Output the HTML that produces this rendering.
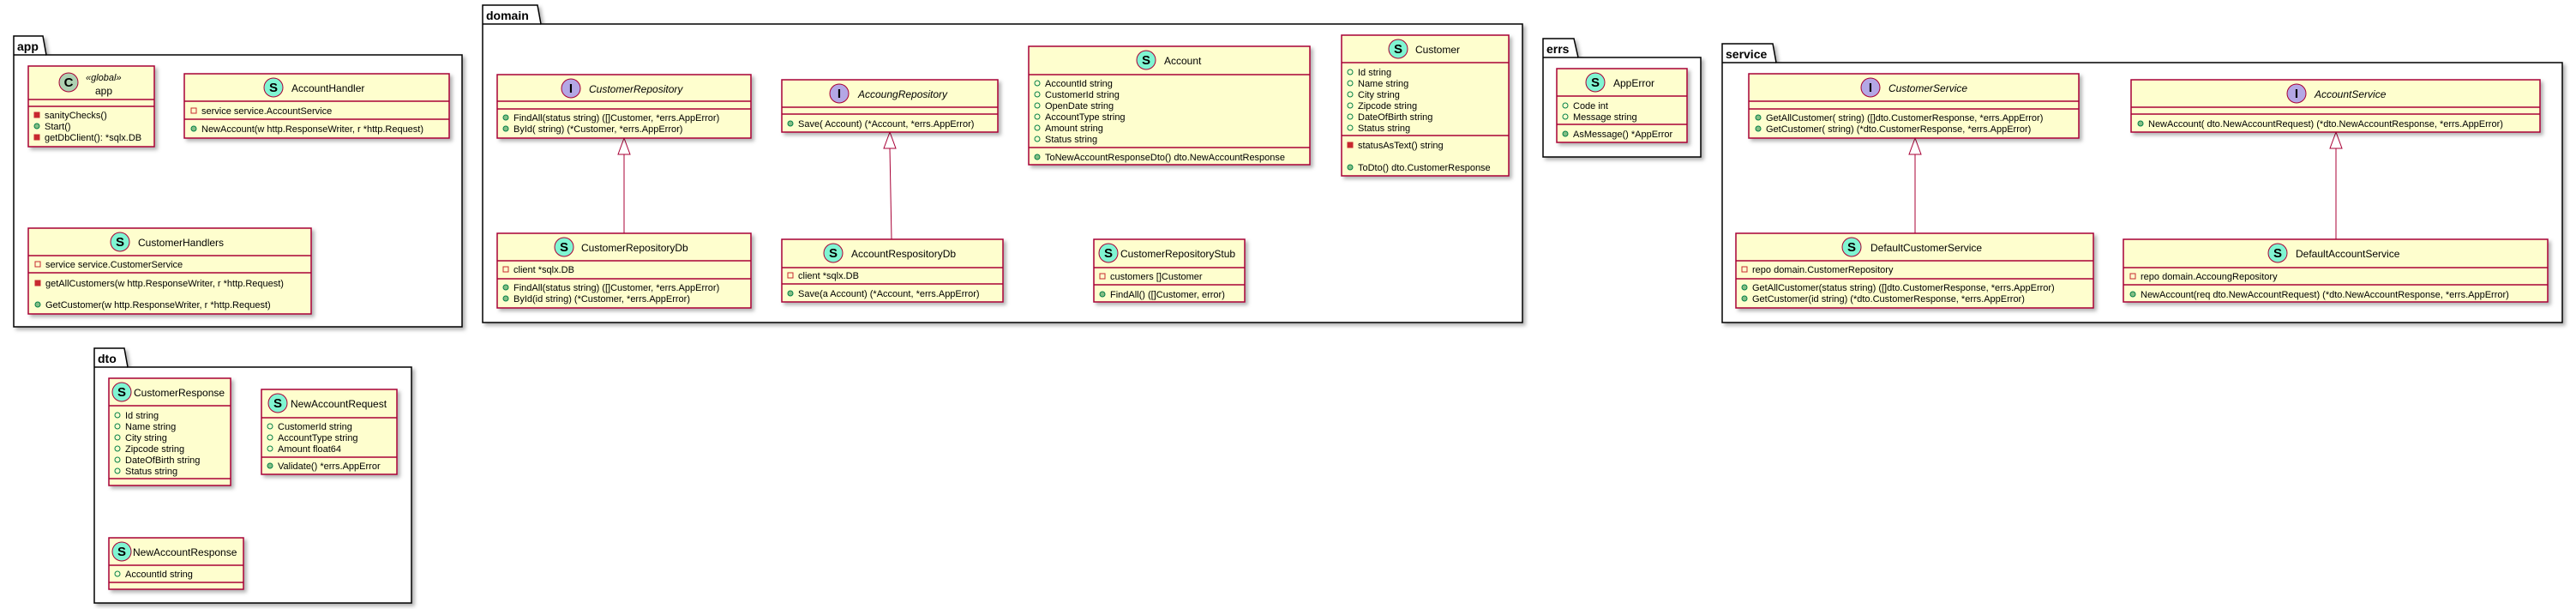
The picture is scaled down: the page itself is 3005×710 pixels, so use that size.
<!DOCTYPE html>
<html><head><meta charset="utf-8"><style>
html,body{margin:0;padding:0;background:#fff;}
svg{display:block;}
text{font-family:"Liberation Sans",sans-serif;font-size:11px;fill:#000;}
.t{font-size:12px;}
.i{font-style:italic;}
.pk{font-size:14px;font-weight:bold;}
.c{fill:#FEFECE;stroke:#A80036;stroke-width:1.5;filter:url(#sh);}
.l{stroke:#A80036;stroke-width:1.5;}
.p{fill:#fff;stroke:#000;stroke-width:1.5;filter:url(#sh);}
.cs{fill:#7FF5D2;stroke:#A80036;stroke-width:1;}
.ci{fill:#B4A7E5;stroke:#A80036;stroke-width:1;}
.cc{fill:#ADD1B2;stroke:#A80036;stroke-width:1;}
.ct{font-size:15px;font-weight:bold;text-anchor:middle;}
.ar{fill:none;stroke:#A80036;stroke-width:1;}
.tri{fill:#fff;stroke:#A80036;stroke-width:1;}
</style></head><body>
<svg width="3005" height="710" xmlns="http://www.w3.org/2000/svg">
<defs>
<filter id="sh" x="-5%" y="-5%" width="115%" height="130%"><feDropShadow dx="3" dy="3" stdDeviation="2" flood-color="#000" flood-opacity="0.3"/></filter>
<g id="pm"><circle cx="0" cy="0" r="3" fill="#84BE84" stroke="#038048" stroke-width="1"/></g>
<g id="pf"><circle cx="0" cy="0" r="3" fill="none" stroke="#038048" stroke-width="1"/></g>
<g id="vf"><rect x="-3" y="-3" width="6" height="6" fill="none" stroke="#C82930" stroke-width="1"/></g>
<g id="vm"><rect x="-3" y="-3" width="6" height="6" fill="#C82930" stroke="#C82930" stroke-width="1"/></g>
</defs>

<!-- packages -->
<path class="p" d="M16,64 L16,42 L50,42 L54,64 L539,64 L539,381 L16,381 Z"/><line x1="16" y1="64" x2="54" y2="64" stroke="#000" stroke-width="1.5"/>
<text class="pk" x="20" y="59">app</text>
<path class="p" d="M110,428 L110,406 L145,406 L149,428 L480,428 L480,703 L110,703 Z"/><line x1="110" y1="428" x2="149" y2="428" stroke="#000" stroke-width="1.5"/>
<text class="pk" x="114" y="423">dto</text>
<path class="p" d="M563,28 L563,6 L627,6 L631,28 L1776,28 L1776,376 L563,376 Z"/><line x1="563" y1="28" x2="631" y2="28" stroke="#000" stroke-width="1.5"/>
<text class="pk" x="567" y="23">domain</text>
<path class="p" d="M1800,67 L1800,45 L1836,45 L1841,67 L1984,67 L1984,183 L1800,183 Z"/><line x1="1800" y1="67" x2="1841" y2="67" stroke="#000" stroke-width="1.5"/>
<text class="pk" x="1804" y="62">errs</text>
<path class="p" d="M2009,73 L2009,51 L2068,51 L2072,73 L2989,73 L2989,376 L2009,376 Z"/><line x1="2009" y1="73" x2="2072" y2="73" stroke="#000" stroke-width="1.5"/>
<text class="pk" x="2013" y="68">service</text>

<!-- app -->
<rect class="c" x="33" y="77" width="147" height="94"/><line class="l" x1="33" y1="116" x2="180" y2="116"/><line class="l" x1="33" y1="124" x2="180" y2="124"/>
<circle class="cc" cx="80" cy="96" r="11"/><text class="ct" x="80" y="101">C</text>
<text class="i" x="100" y="94">«global»</text><text class="t" x="111" y="110">app</text>
<use href="#vm" x="43" y="134"/><text x="52" y="138">sanityChecks()</text>
<use href="#pm" x="43" y="147"/><text x="52" y="151">Start()</text>
<use href="#vm" x="43" y="160"/><text x="52" y="164">getDbClient(): *sqlx.DB</text>

<rect class="c" x="215" y="86" width="309" height="75"/><line class="l" x1="215" y1="118" x2="524" y2="118"/><line class="l" x1="215" y1="139" x2="524" y2="139"/>
<circle class="cs" cx="319" cy="102" r="11"/><text class="ct" x="319" y="107">S</text><text class="t" x="340" y="107">AccountHandler</text>
<use href="#vf" x="226" y="129"/><text x="235" y="133">service service.AccountService</text>
<use href="#pm" x="226" y="150"/><text x="235" y="154">NewAccount(w http.ResponseWriter, r *http.Request)</text>

<rect class="c" x="33" y="266" width="330" height="100"/><line class="l" x1="33" y1="298" x2="363" y2="298"/><line class="l" x1="33" y1="318" x2="363" y2="318"/>
<circle class="cs" cx="140" cy="282" r="11"/><text class="ct" x="140" y="287">S</text><text class="t" x="161" y="287">CustomerHandlers</text>
<use href="#vf" x="44" y="308"/><text x="53" y="312">service service.CustomerService</text>
<use href="#vm" x="44" y="330"/><text x="53" y="334">getAllCustomers(w http.ResponseWriter, r *http.Request)</text>
<use href="#pm" x="44" y="355"/><text x="53" y="359">GetCustomer(w http.ResponseWriter, r *http.Request)</text>

<!-- dto -->
<rect class="c" x="127" y="441" width="142" height="125"/><line class="l" x1="127" y1="473" x2="269" y2="473"/><line class="l" x1="127" y1="558" x2="269" y2="558"/>
<circle class="cs" cx="142" cy="457" r="11"/><text class="ct" x="142" y="462">S</text><text class="t" x="156" y="462">CustomerResponse</text>
<use href="#pf" x="137" y="484"/><text x="146" y="488">Id string</text>
<use href="#pf" x="137" y="497"/><text x="146" y="501">Name string</text>
<use href="#pf" x="137" y="510"/><text x="146" y="514">City string</text>
<use href="#pf" x="137" y="523"/><text x="146" y="527">Zipcode string</text>
<use href="#pf" x="137" y="536"/><text x="146" y="540">DateOfBirth string</text>
<use href="#pf" x="137" y="549"/><text x="146" y="553">Status string</text>

<rect class="c" x="305" y="454" width="158" height="99"/><line class="l" x1="305" y1="487" x2="463" y2="487"/><line class="l" x1="305" y1="533" x2="463" y2="533"/>
<circle class="cs" cx="324" cy="470" r="11"/><text class="ct" x="324" y="475">S</text><text class="t" x="339" y="475">NewAccountRequest</text>
<use href="#pf" x="315" y="497"/><text x="324" y="501">CustomerId string</text>
<use href="#pf" x="315" y="510"/><text x="324" y="514">AccountType string</text>
<use href="#pf" x="315" y="523"/><text x="324" y="527">Amount float64</text>
<use href="#pm" x="315" y="543"/><text x="324" y="547">Validate() *errs.AppError</text>

<rect class="c" x="127" y="627" width="157" height="60"/><line class="l" x1="127" y1="659" x2="284" y2="659"/><line class="l" x1="127" y1="679" x2="284" y2="679"/>
<circle class="cs" cx="142" cy="643" r="11"/><text class="ct" x="142" y="648">S</text><text class="t" x="155" y="648">NewAccountResponse</text>
<use href="#pf" x="137" y="669"/><text x="146" y="673">AccountId string</text>

<!-- domain -->
<line class="ar" x1="728" y1="180" x2="728" y2="272"/><polygon class="tri" points="728,161 721,180 735,180"/>
<line class="ar" x1="1038" y1="173" x2="1040" y2="279"/><polygon class="tri" points="1038,154 1031,173 1045,173"/>

<rect class="c" x="580" y="87" width="296" height="74"/><line class="l" x1="580" y1="118" x2="876" y2="118"/><line class="l" x1="580" y1="127" x2="876" y2="127"/>
<circle class="ci" cx="666" cy="103" r="11"/><text class="ct" x="666" y="108">I</text><text class="t i" x="687" y="108">CustomerRepository</text>
<use href="#pm" x="590" y="137"/><text x="599" y="141">FindAll(status string) ([]Customer, *errs.AppError)</text>
<use href="#pm" x="590" y="150"/><text x="599" y="154">ById( string) (*Customer, *errs.AppError)</text>

<rect class="c" x="580" y="272" width="296" height="87"/><line class="l" x1="580" y1="304" x2="876" y2="304"/><line class="l" x1="580" y1="325" x2="876" y2="325"/>
<circle class="cs" cx="658" cy="288" r="11"/><text class="ct" x="658" y="293">S</text><text class="t" x="678" y="293">CustomerRepositoryDb</text>
<use href="#vf" x="590" y="314"/><text x="599" y="318">client *sqlx.DB</text>
<use href="#pm" x="590" y="335"/><text x="599" y="339">FindAll(status string) ([]Customer, *errs.AppError)</text>
<use href="#pm" x="590" y="348"/><text x="599" y="352">ById(id string) (*Customer, *errs.AppError)</text>

<rect class="c" x="912" y="93" width="252" height="61"/><line class="l" x1="912" y1="125" x2="1164" y2="125"/><line class="l" x1="912" y1="133" x2="1164" y2="133"/>
<circle class="ci" cx="979" cy="109" r="11"/><text class="ct" x="979" y="114">I</text><text class="t i" x="1001" y="114">AccoungRepository</text>
<use href="#pm" x="922" y="144"/><text x="931" y="148">Save( Account) (*Account, *errs.AppError)</text>

<rect class="c" x="912" y="279" width="258" height="73"/><line class="l" x1="912" y1="312" x2="1170" y2="312"/><line class="l" x1="912" y1="331" x2="1170" y2="331"/>
<circle class="cs" cx="972" cy="295" r="11"/><text class="ct" x="972" y="300">S</text><text class="t" x="993" y="300">AccountRespositoryDb</text>
<use href="#vf" x="922" y="321"/><text x="931" y="325">client *sqlx.DB</text>
<use href="#pm" x="922" y="342"/><text x="931" y="346">Save(a Account) (*Account, *errs.AppError)</text>

<rect class="c" x="1200" y="54" width="328" height="138"/><line class="l" x1="1200" y1="87" x2="1528" y2="87"/><line class="l" x1="1200" y1="172" x2="1528" y2="172"/>
<circle class="cs" cx="1337" cy="70" r="11"/><text class="ct" x="1337" y="75">S</text><text class="t" x="1358" y="75">Account</text>
<use href="#pf" x="1210" y="97"/><text x="1219" y="101">AccountId string</text>
<use href="#pf" x="1210" y="110"/><text x="1219" y="114">CustomerId string</text>
<use href="#pf" x="1210" y="123"/><text x="1219" y="127">OpenDate string</text>
<use href="#pf" x="1210" y="136"/><text x="1219" y="140">AccountType string</text>
<use href="#pf" x="1210" y="149"/><text x="1219" y="153">Amount string</text>
<use href="#pf" x="1210" y="162"/><text x="1219" y="166">Status string</text>
<use href="#pm" x="1210" y="183"/><text x="1219" y="187">ToNewAccountResponseDto() dto.NewAccountResponse</text>

<rect class="c" x="1565" y="41" width="195" height="164"/><line class="l" x1="1565" y1="73" x2="1760" y2="73"/><line class="l" x1="1565" y1="158" x2="1760" y2="158"/>
<circle class="cs" cx="1631" cy="57" r="11"/><text class="ct" x="1631" y="62">S</text><text class="t" x="1651" y="62">Customer</text>
<use href="#pf" x="1575" y="84"/><text x="1584" y="88">Id string</text>
<use href="#pf" x="1575" y="97"/><text x="1584" y="101">Name string</text>
<use href="#pf" x="1575" y="110"/><text x="1584" y="114">City string</text>
<use href="#pf" x="1575" y="123"/><text x="1584" y="127">Zipcode string</text>
<use href="#pf" x="1575" y="136"/><text x="1584" y="140">DateOfBirth string</text>
<use href="#pf" x="1575" y="149"/><text x="1584" y="153">Status string</text>
<use href="#vm" x="1575" y="169"/><text x="1584" y="173">statusAsText() string</text>
<use href="#pm" x="1575" y="195"/><text x="1584" y="199">ToDto() dto.CustomerResponse</text>

<rect class="c" x="1276" y="279" width="176" height="73"/><line class="l" x1="1276" y1="312" x2="1452" y2="312"/><line class="l" x1="1276" y1="332" x2="1452" y2="332"/>
<circle class="cs" cx="1293" cy="295" r="11"/><text class="ct" x="1293" y="300">S</text><text class="t" x="1307" y="300">CustomerRepositoryStub</text>
<use href="#vf" x="1286" y="322"/><text x="1295" y="326">customers []Customer</text>
<use href="#pm" x="1286" y="343"/><text x="1295" y="347">FindAll() ([]Customer, error)</text>

<!-- errs -->
<rect class="c" x="1816" y="80" width="152" height="86"/><line class="l" x1="1816" y1="112" x2="1968" y2="112"/><line class="l" x1="1816" y1="145" x2="1968" y2="145"/>
<circle class="cs" cx="1861" cy="96" r="11"/><text class="ct" x="1861" y="101">S</text><text class="t" x="1882" y="101">AppError</text>
<use href="#pf" x="1826" y="123"/><text x="1835" y="127">Code int</text>
<use href="#pf" x="1826" y="136"/><text x="1835" y="140">Message string</text>
<use href="#pm" x="1826" y="156"/><text x="1835" y="160">AsMessage() *AppError</text>

<!-- service -->
<line class="ar" x1="2234" y1="180" x2="2234" y2="272"/><polygon class="tri" points="2234,161 2227,180 2241,180"/>
<line class="ar" x1="2725" y1="173" x2="2725" y2="279"/><polygon class="tri" points="2725,154 2718,173 2732,173"/>

<rect class="c" x="2040" y="86" width="385" height="75"/><line class="l" x1="2040" y1="118" x2="2425" y2="118"/><line class="l" x1="2040" y1="127" x2="2425" y2="127"/>
<circle class="ci" cx="2182" cy="102" r="11"/><text class="ct" x="2182" y="107">I</text><text class="t i" x="2203" y="107">CustomerService</text>
<use href="#pm" x="2051" y="137"/><text x="2060" y="141">GetAllCustomer( string) ([]dto.CustomerResponse, *errs.AppError)</text>
<use href="#pm" x="2051" y="150"/><text x="2060" y="154">GetCustomer( string) (*dto.CustomerResponse, *errs.AppError)</text>

<rect class="c" x="2025" y="272" width="417" height="87"/><line class="l" x1="2025" y1="304" x2="2442" y2="304"/><line class="l" x1="2025" y1="325" x2="2442" y2="325"/>
<circle class="cs" cx="2160" cy="288" r="11"/><text class="ct" x="2160" y="293">S</text><text class="t" x="2182" y="293">DefaultCustomerService</text>
<use href="#vf" x="2035" y="314"/><text x="2044" y="318">repo domain.CustomerRepository</text>
<use href="#pm" x="2035" y="335"/><text x="2044" y="339">GetAllCustomer(status string) ([]dto.CustomerResponse, *errs.AppError)</text>
<use href="#pm" x="2035" y="348"/><text x="2044" y="352">GetCustomer(id string) (*dto.CustomerResponse, *errs.AppError)</text>

<rect class="c" x="2486" y="93" width="477" height="61"/><line class="l" x1="2486" y1="125" x2="2963" y2="125"/><line class="l" x1="2486" y1="133" x2="2963" y2="133"/>
<circle class="ci" cx="2679" cy="109" r="11"/><text class="ct" x="2679" y="114">I</text><text class="t i" x="2700" y="114">AccountService</text>
<use href="#pm" x="2497" y="144"/><text x="2506" y="148">NewAccount( dto.NewAccountRequest) (*dto.NewAccountResponse, *errs.AppError)</text>

<rect class="c" x="2477" y="279" width="495" height="73"/><line class="l" x1="2477" y1="312" x2="2972" y2="312"/><line class="l" x1="2477" y1="332" x2="2972" y2="332"/>
<circle class="cs" cx="2657" cy="295" r="11"/><text class="ct" x="2657" y="300">S</text><text class="t" x="2678" y="300">DefaultAccountService</text>
<use href="#vf" x="2488" y="322"/><text x="2497" y="326">repo domain.AccoungRepository</text>
<use href="#pm" x="2488" y="343"/><text x="2497" y="347">NewAccount(req dto.NewAccountRequest) (*dto.NewAccountResponse, *errs.AppError)</text>
</svg>
</body></html>
